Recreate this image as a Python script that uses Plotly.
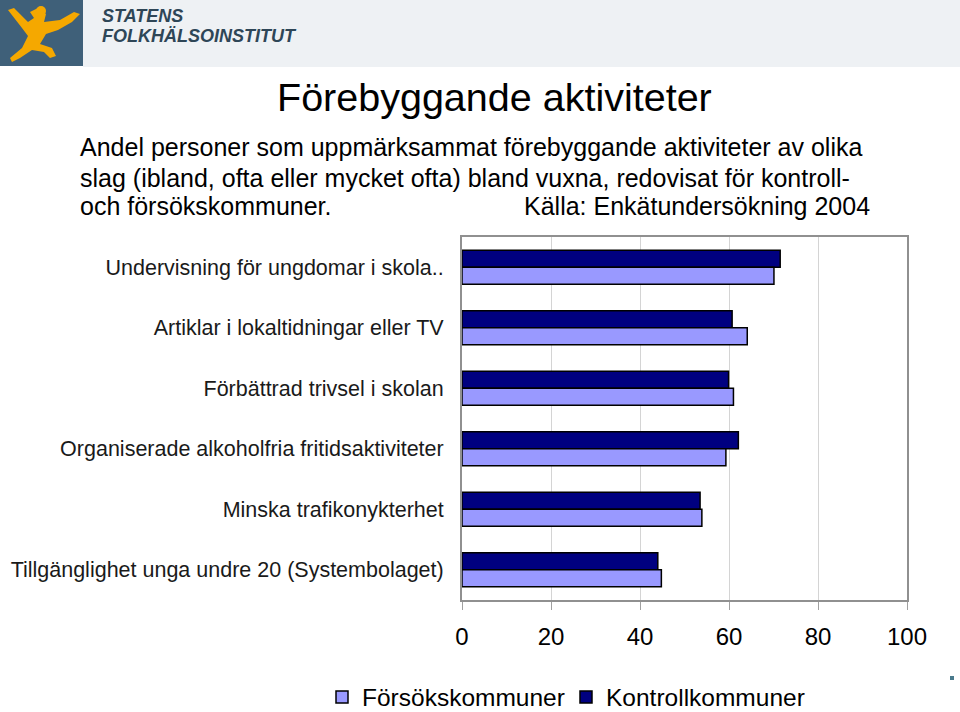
import plotly.graph_objects as go

categories = [
    "Undervisning för ungdomar i skola..",
    "Artiklar i lokaltidningar eller TV",
    "Förbättrad trivsel i skolan",
    "Organiserade alkoholfria fritidsaktiviteter",
    "Minska trafikonykterhet",
    "Tillgänglighet unga undre 20 (Systembolaget)",
]
kontroll = [71.5, 60.7, 59.9, 62.1, 53.5, 44.0]
forsok = [70.1, 64.1, 61.0, 59.3, 53.9, 44.8]
x_ticks = [0, 20, 40, 60, 80, 100]

W, H = 960, 712
L, R, T, B = 462, 53, 237, 112
PW, PH = W - L - R, H - T - B


def px(x):
    return (x - L) / PW


def py(y):
    return (H - B - y) / PH


fig = go.Figure()
fig.add_trace(go.Bar(
    y=categories, x=kontroll, orientation="h", name="Kontrollkommuner",
    marker=dict(color="#000080", line=dict(color="black", width=1.5)),
    legend="legend2",
))
fig.add_trace(go.Bar(
    y=categories, x=forsok, orientation="h", name="Försökskommuner",
    marker=dict(color="#9999FF", line=dict(color="black", width=1.5)),
    legend="legend",
))

font = "Arial, Liberation Sans, sans-serif"
leg_common = dict(orientation="h", xref="container", xanchor="left",
                  yref="container", y=(H - 697) / H, yanchor="middle",
                  font=dict(size=24.5, color="black"), itemwidth=30,
                  bgcolor="rgba(0,0,0,0)", borderwidth=0)

fig.update_layout(
    width=W, height=H,
    margin=dict(l=L, r=R, t=T, b=B, pad=0, autoexpand=False),
    paper_bgcolor="white", plot_bgcolor="white",
    barmode="group", bargap=0.44, bargroupgap=0,
    font=dict(family=font, color="black"),
    showlegend=True,
    legend=dict(x=322 / W, **leg_common),
    legend2=dict(x=566 / W, **leg_common),
    xaxis=dict(range=[0, 100], tickvals=x_ticks, ticktext=[str(v) for v in x_ticks],
               showgrid=True, gridcolor="#D4D4D4", gridwidth=1,
               ticks="outside", ticklen=8, tickcolor="#A0A0A0",
               tickfont=dict(size=24, color="black"),
               showline=True, linecolor="#909090", linewidth=2, mirror=True,
               zeroline=False, fixedrange=True, automargin=False),
    yaxis=dict(type="category", autorange="reversed", showgrid=False,
               tickfont=dict(size=21.5, color="#1A1A1A"), ticks="",
               showline=True, linecolor="#909090", linewidth=2, mirror=True,
               fixedrange=True, automargin=False),
)
fig.update_xaxes(ticklabelstandoff=6)
fig.update_yaxes(ticklabelstandoff=12)

shapes = []
# banner background
shapes.append(dict(type="rect", xref="paper", yref="paper", x0=px(83), x1=px(960), y0=py(67), y1=py(0),
                   fillcolor="#EEF1F4", line=dict(width=0), layer="below"))
shapes.append(dict(type="rect", xref="paper", yref="paper", x0=px(0), x1=px(83), y0=py(66), y1=py(0),
                   fillcolor="#3F6079", line=dict(width=0), layer="below"))
# stylized leaping figure
pts = [(8, 10), (14, 8), (28, 22), (34, 18), (30, 12), (38, 8), (46, 14), (44, 22),
       (60, 20), (74, 12), (80, 14), (72, 22), (58, 30), (46, 34), (40, 44), (52, 48),
       (56, 56), (50, 58), (44, 52), (32, 50), (20, 58), (12, 62), (10, 58), (22, 48),
       (28, 36), (22, 28)]
path = "M " + " L ".join(f"{px(a):.5f},{py(b):.5f}" for a, b in pts) + " Z"
shapes.append(dict(type="path", xref="paper", yref="paper", path=path,
                   fillcolor="#F5A800", line=dict(width=0), layer="below"))
shapes.append(dict(type="circle", xref="paper", yref="paper", x0=px(36), x1=px(46), y0=py(16), y1=py(6),
                   fillcolor="#F5A800", line=dict(width=0), layer="below"))
# tiny mark
shapes.append(dict(type="rect", xref="paper", yref="paper", x0=px(950), x1=px(954), y0=py(680), y1=py(676),
                   fillcolor="#4A7A8C", line=dict(width=0)))
fig.update_layout(shapes=shapes)

ann = [
    dict(text="<b><i>STATENS</i></b>", x=px(100), y=py(16), size=18, color="#2E4657", xa="left"),
    dict(text="<b><i>FOLKHÄLSOINSTITUT</i></b>", x=px(100), y=py(36), size=18, color="#2E4657", xa="left"),
    dict(text="Förebyggande aktiviteter", x=px(494), y=py(97), size=39.5, color="black", xa="center"),
    dict(text="Andel personer som uppmärksammat förebyggande aktiviteter av olika", x=px(78), y=py(147),
         size=25, color="black", xa="left"),
    dict(text="slag (ibland, ofta eller mycket ofta) bland vuxna, redovisat för kontroll-", x=px(78), y=py(178),
         size=25, color="black", xa="left"),
    dict(text="och försökskommuner.", x=px(78), y=py(206), size=25, color="black", xa="left"),
    dict(text="Källa: Enkätundersökning 2004", x=px(522), y=py(206), size=25, color="black", xa="left"),
]
fig.update_layout(annotations=[
    dict(text=a["text"], x=a["x"], y=a["y"], xref="paper", yref="paper", xanchor=a["xa"], yanchor="middle",
         showarrow=False, font=dict(size=a["size"], color=a["color"], family=font))
    for a in ann
])

fig.write_html("out.html", config={"displayModeBar": False},
               post_script="document.body.style.margin='0px';")
